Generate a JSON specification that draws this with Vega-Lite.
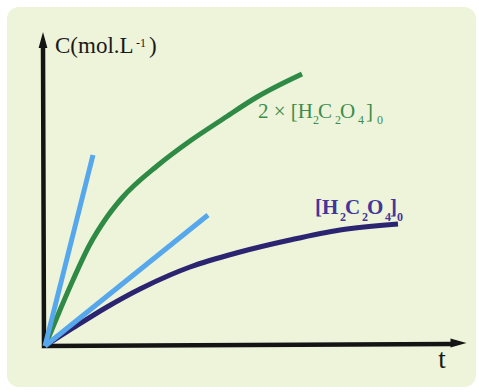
{
  "$schema": "https://vega.github.io/schema/vega-lite/v6.json",
  "width": 479,
  "height": 392,
  "autosize": {"type": "fit", "contains": "padding"},
  "padding": 0,
  "background": "#ffffff",
  "config": {"view": {"stroke": null}, "text": {"font": "Liberation Serif, Times New Roman, DejaVu Serif, serif"}},
  "datasets": {
    "curves": [
      {"series": "2x", "t": 0, "C": 0},
      {"series": "2x", "t": 15, "C": 36},
      {"series": "2x", "t": 28, "C": 66},
      {"series": "2x", "t": 44, "C": 100},
      {"series": "2x", "t": 62, "C": 129},
      {"series": "2x", "t": 77, "C": 148},
      {"series": "2x", "t": 112, "C": 180},
      {"series": "2x", "t": 145, "C": 205},
      {"series": "2x", "t": 178, "C": 227},
      {"series": "2x", "t": 212, "C": 249},
      {"series": "2x", "t": 257, "C": 272},
      {"series": "1x", "t": 0, "C": 0},
      {"series": "1x", "t": 28, "C": 18},
      {"series": "1x", "t": 62, "C": 39},
      {"series": "1x", "t": 95, "C": 57},
      {"series": "1x", "t": 125, "C": 71},
      {"series": "1x", "t": 145, "C": 79},
      {"series": "1x", "t": 195, "C": 94},
      {"series": "1x", "t": 245, "C": 106},
      {"series": "1x", "t": 295, "C": 116},
      {"series": "1x", "t": 353, "C": 122}
    ],
    "tangents": [
      {"series": "2x", "t": 0, "C": 0},
      {"series": "2x", "t": 48, "C": 191},
      {"series": "1x", "t": 0, "C": 0},
      {"series": "1x", "t": 163, "C": 131}
    ],
    "frame": [
      {"o": 1, "t": -2, "C": 300},
      {"o": 2, "t": -1, "C": 0},
      {"o": 3, "t": 407, "C": 2}
    ],
    "arrows": [
      {"axis": "C", "t": -2, "C": 306},
      {"axis": "t", "t": 413.5, "C": 3}
    ],
    "labels": [
      {"grp": "gm", "t": 213, "C": 228, "text": "2 × [H"},
      {"grp": "gs", "t": 268, "C": 222, "text": "2"},
      {"grp": "gm", "t": 273, "C": 228, "text": "C"},
      {"grp": "gs", "t": 290, "C": 222, "text": "2"},
      {"grp": "gm", "t": 295, "C": 228, "text": "O"},
      {"grp": "gs", "t": 313, "C": 222, "text": "4"},
      {"grp": "gm", "t": 321, "C": 228, "text": "]"},
      {"grp": "gs", "t": 332, "C": 222, "text": "0"},
      {"grp": "pm", "t": 270, "C": 132, "text": "[H"},
      {"grp": "ps", "t": 295, "C": 125, "text": "2"},
      {"grp": "pm", "t": 300, "C": 132, "text": "C"},
      {"grp": "ps", "t": 317, "C": 125, "text": "2"},
      {"grp": "pm", "t": 322, "C": 132, "text": "O"},
      {"grp": "ps", "t": 340, "C": 125, "text": "4"},
      {"grp": "pm", "t": 345, "C": 132, "text": "]"},
      {"grp": "ps", "t": 352, "C": 125, "text": "0"},
      {"grp": "am", "t": 10, "C": 293, "text": "C(mol.L"},
      {"grp": "as", "t": 91, "C": 299, "text": "-1"},
      {"grp": "am", "t": 104, "C": 293, "text": ")"},
      {"grp": "at", "t": 397, "C": -22, "text": "t"}
    ]
  },
  "encoding": {
    "x": {"field": "t", "type": "quantitative", "scale": {"domain": [-45, 434], "nice": false, "zero": false}, "axis": null},
    "y": {"field": "C", "type": "quantitative", "scale": {"domain": [-46, 346], "nice": false, "zero": false}, "axis": null}
  },
  "layer": [
    {
      "data": {"values": [{"t": -38, "t2": 431, "C": 339, "C2": -41}]},
      "mark": {"type": "rect", "color": "#edf4d9", "cornerRadius": 12},
      "encoding": {
        "x2": {"field": "t2"},
        "y2": {"field": "C2"}
      }
    },
    {
      "data": {"name": "frame"},
      "mark": {"type": "line", "color": "#141414", "strokeWidth": 4.5, "strokeJoin": "miter"},
      "encoding": {"order": {"field": "o", "type": "quantitative"}}
    },
    {
      "data": {"name": "arrows"},
      "mark": {"type": "point", "filled": true, "opacity": 1, "color": "#141414", "size": 256},
      "encoding": {
        "shape": {"field": "axis", "type": "nominal", "scale": {"domain": ["C", "t"], "range": ["M-0.55,1L0,-1L0.55,1Z", "M-1,-0.55L1,0L-1,0.55Z"]}, "legend": null}
      }
    },
    {
      "data": {"name": "curves"},
      "mark": {"type": "line", "strokeWidth": 5, "interpolate": "monotone"},
      "encoding": {
        "color": {"field": "series", "type": "nominal", "scale": {"domain": ["2x", "1x"], "range": ["#2e8a45", "#2b2470"]}, "legend": null}
      }
    },
    {
      "data": {"name": "tangents"},
      "mark": {"type": "line", "strokeWidth": 5, "color": "#56a7ec"},
      "encoding": {"detail": {"field": "series", "type": "nominal"}}
    },
    {
      "data": {"name": "labels"},
      "transform": [{"filter": "datum.grp === 'gm'"}],
      "mark": {"type": "text", "fontSize": 21, "align": "left", "baseline": "alphabetic", "color": "#3e8c4d"},
      "encoding": {"text": {"field": "text"}}
    },
    {
      "data": {"name": "labels"},
      "transform": [{"filter": "datum.grp === 'gs'"}],
      "mark": {"type": "text", "fontSize": 12, "align": "left", "baseline": "alphabetic", "color": "#3e8c4d"},
      "encoding": {"text": {"field": "text"}}
    },
    {
      "data": {"name": "labels"},
      "transform": [{"filter": "datum.grp === 'pm'"}],
      "mark": {"type": "text", "fontSize": 21, "fontWeight": "bold", "align": "left", "baseline": "alphabetic", "color": "#43359a"},
      "encoding": {"text": {"field": "text"}}
    },
    {
      "data": {"name": "labels"},
      "transform": [{"filter": "datum.grp === 'ps'"}],
      "mark": {"type": "text", "fontSize": 12, "fontWeight": "bold", "align": "left", "baseline": "alphabetic", "color": "#43359a"},
      "encoding": {"text": {"field": "text"}}
    },
    {
      "data": {"name": "labels"},
      "transform": [{"filter": "datum.grp === 'am'"}],
      "mark": {"type": "text", "fontSize": 23, "align": "left", "baseline": "alphabetic", "color": "#1a1a1a"},
      "encoding": {"text": {"field": "text"}}
    },
    {
      "data": {"name": "labels"},
      "transform": [{"filter": "datum.grp === 'as'"}],
      "mark": {"type": "text", "fontSize": 12, "align": "left", "baseline": "alphabetic", "color": "#1a1a1a"},
      "encoding": {"text": {"field": "text"}}
    },
    {
      "data": {"name": "labels"},
      "transform": [{"filter": "datum.grp === 'at'"}],
      "mark": {"type": "text", "fontSize": 27, "align": "center", "baseline": "alphabetic", "color": "#1a1a1a"},
      "encoding": {"text": {"field": "text"}}
    }
  ]
}
